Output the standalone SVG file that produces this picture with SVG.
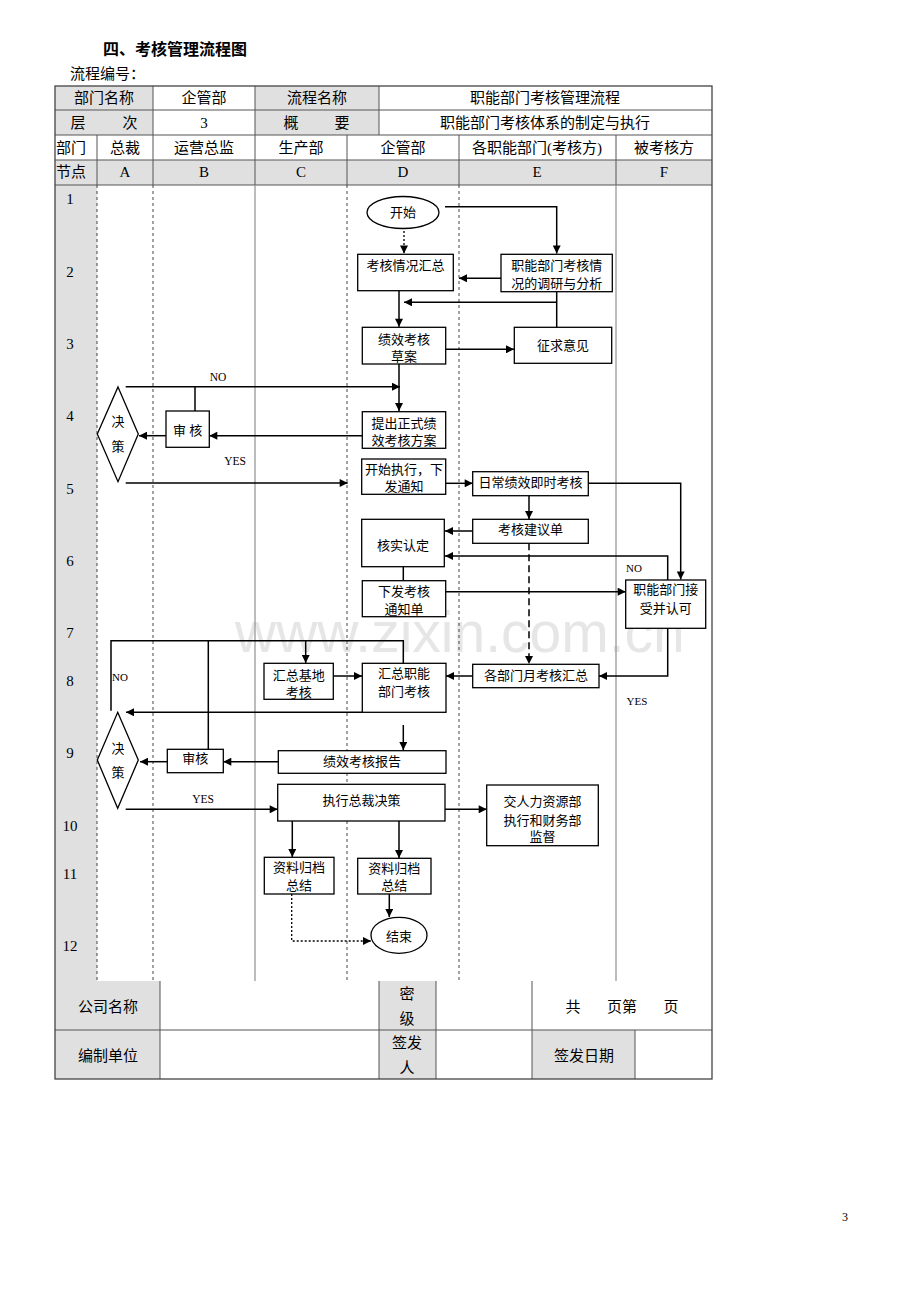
<svg xmlns="http://www.w3.org/2000/svg" width="920" height="1302" viewBox="0 0 920 1302">
<defs>
<style>
text{font-family:"Liberation Serif","Noto Sans CJK SC",serif;fill:#000}
.h{font-size:15px;text-anchor:middle}
.bt{font-size:13px;text-anchor:middle}
.lb{font-size:11.5px;text-anchor:middle}
.g{fill:#e0e0e0}
.ln{stroke:#555;stroke-width:1;fill:none}
.sg{stroke:#999;stroke-width:1.3;fill:none}
.ds{stroke:#444;stroke-width:1;stroke-dasharray:3,3;fill:none}
.bx{fill:#fff;stroke:#000;stroke-width:1.3}
.c{fill:none;stroke:#000;stroke-width:1.5}
.ca{fill:none;stroke:#000;stroke-width:1.5;marker-end:url(#ah)}
.dot{fill:none;stroke:#000;stroke-width:1.3;stroke-dasharray:2,2;marker-end:url(#ah)}
.dsh{fill:none;stroke:#000;stroke-width:1.5;stroke-dasharray:7,4;marker-end:url(#ah)}
</style>
<marker id="ah" viewBox="0 0 10 10" refX="10" refY="5" markerWidth="10" markerHeight="8" markerUnits="userSpaceOnUse" orient="auto"><path d="M0,0 L10,5 L0,10 z" fill="#000"/></marker>
</defs>
<rect width="920" height="1302" fill="#fff"/>

<g id="title">
<text x="103" y="55" style="font-size:16px;font-weight:bold">四、考核管理流程图</text>
<text x="70" y="79" style="font-size:15px">流程编号：</text>
</g>

<g id="watermark">
<text x="235" y="652" style="font-family:'Liberation Sans',sans-serif;font-size:57px;fill:#e6e6e6">www.zixin.com.cn</text>
</g>

<g id="header-table">
<rect x="55" y="86" width="98" height="24" class="g"/>
<rect x="255" y="86" width="124" height="24" class="g"/>
<rect x="55" y="110" width="98" height="25" class="g"/>
<rect x="255" y="110" width="124" height="25" class="g"/>
<rect x="55" y="160" width="657" height="25" class="g"/>
<rect x="55" y="185" width="42" height="796" class="g"/>
<path class="ln" d="M55,110H712M55,135H712M55,160H712M55,185H712M153,86V135M255,86V135M379,86V135M97,135V185M153,135V185M255,135V185M347,135V185M459,135V185M616,135V185"/>
<text class="h" x="104" y="103">部门名称</text>
<text class="h" x="204" y="103">企管部</text>
<text class="h" x="317" y="103">流程名称</text>
<text class="h" x="545" y="103">职能部门考核管理流程</text>
<text class="h" x="78" y="128">层</text>
<text class="h" x="130" y="128">次</text>
<text class="h" x="204" y="128">3</text>
<text class="h" x="291" y="128">概</text>
<text class="h" x="342" y="128">要</text>
<text class="h" x="545" y="128">职能部门考核体系的制定与执行</text>
<text class="h" x="71" y="153">部门</text>
<text class="h" x="125" y="153">总裁</text>
<text class="h" x="204" y="153">运营总监</text>
<text class="h" x="301" y="153">生产部</text>
<text class="h" x="403" y="153">企管部</text>
<text class="h" x="537" y="153">各职能部门(考核方)</text>
<text class="h" x="664" y="153">被考核方</text>
<text class="h" x="71" y="177">节点</text>
<text class="h" x="125" y="177">A</text>
<text class="h" x="204" y="177">B</text>
<text class="h" x="301" y="177">C</text>
<text class="h" x="403" y="177">D</text>
<text class="h" x="537" y="177">E</text>
<text class="h" x="664" y="177">F</text>
</g>

<g id="lanes">
<path class="ds" d="M97,185V981M153,185V981M347,185V981M459,185V981"/>
<path class="sg" d="M255,185V981M616,185V981"/>
<g class="h">
<text x="70" y="204">1</text>
<text x="70" y="277">2</text>
<text x="70" y="349">3</text>
<text x="70" y="421">4</text>
<text x="70" y="494">5</text>
<text x="70" y="566">6</text>
<text x="70" y="638">7</text>
<text x="70" y="686">8</text>
<text x="70" y="758">9</text>
<text x="70" y="831">10</text>
<text x="70" y="879">11</text>
<text x="70" y="951">12</text>
</g>
</g>

<g id="footer">
<rect x="55" y="981" width="105" height="98" class="g"/>
<rect x="379" y="981" width="57" height="98" class="g"/>
<rect x="532" y="1030" width="103" height="49" class="g"/>
<path class="ln" d="M55,1030H712M160,981V1079M379,981V1079M436,981V1079M532,981V1079M635,1030V1079"/>
<text class="h" x="108" y="1012">公司名称</text>
<text class="h" x="407" y="999">密</text>
<text class="h" x="407" y="1024">级</text>
<text class="h" x="573" y="1012">共</text>
<text class="h" x="622" y="1012">页第</text>
<text class="h" x="671" y="1012">页</text>
<text class="h" x="108" y="1061">编制单位</text>
<text class="h" x="407" y="1048">签发</text>
<text class="h" x="407" y="1073">人</text>
<text class="h" x="584" y="1061">签发日期</text>
</g>

<rect x="55" y="86" width="657" height="993" fill="none" stroke="#444" stroke-width="1.3"/>

<g id="connectors">
<path class="ca" d="M445,206.7H556.7V253.5"/>
<path class="dot" d="M404,231V253.5"/>
<path class="ca" d="M501,278.3H459"/>
<path class="c" d="M556.7,291.7V327.3"/>
<path class="ca" d="M556.7,302.3H404"/>
<path class="ca" d="M399,290.7V326.7"/>
<path class="ca" d="M445.7,349.3H514"/>
<path class="ca" d="M399,364V411"/>
<path class="ca" d="M125.7,386.7H400"/>
<path class="c" d="M195,386.7V411"/>
<path class="ca" d="M362,435.7H209.3"/>
<path class="ca" d="M166,435.7H139"/>
<path class="ca" d="M125.7,483H347.7"/>
<path class="ca" d="M445.7,483.3H472.7"/>
<path class="ca" d="M588.3,483.3H680.7V579.5"/>
<path class="ca" d="M529,495.7V519"/>
<path class="ca" d="M472.7,531H445"/>
<path class="ca" d="M667.7,580V556H445"/>
<path class="c" d="M403.3,566.7V580.7"/>
<path class="ca" d="M445.7,591.7H625.7"/>
<path class="dsh" d="M529,543.3V664"/>
<path class="ca" d="M667.7,628.3V676H599"/>
<path class="ca" d="M472.7,676H446"/>
<path class="c" d="M403.3,663.3V640.7H111V710.7"/>
<path class="c" d="M208.3,640.7V749.3"/>
<path class="ca" d="M305.7,640.7V663"/>
<path class="ca" d="M333.3,676H362"/>
<path class="ca" d="M362,712.3H126"/>
<path class="ca" d="M403.3,725V750"/>
<path class="ca" d="M278.3,761.7H223.3"/>
<path class="ca" d="M167.3,761.7H140"/>
<path class="ca" d="M125.7,809.3H277.7"/>
<path class="ca" d="M445,809.3H486.7"/>
<path class="ca" d="M292.3,821V857"/>
<path class="ca" d="M399,821V858"/>
<path class="ca" d="M389.3,894V917"/>
<path class="dot" d="M291.7,894V941H371"/>
<text class="lb" x="218" y="381">NO</text>
<text class="lb" x="235" y="465">YES</text>
<text class="lb" x="634" y="572" style="font-size:11px">NO</text>
<text class="lb" x="637" y="705" style="font-size:11px">YES</text>
<text class="lb" x="120" y="681" style="font-size:11px">NO</text>
<text class="lb" x="203" y="803">YES</text>
</g>

<g id="n-start"><ellipse cx="403" cy="212.5" rx="36" ry="16" class="bx"/><text class="bt" x="403" y="217">开始</text></g>
<g id="n-summary"><rect x="357.7" y="254.3" width="95.6" height="36.4" class="bx"/><text class="bt" x="405.5" y="270">考核情况汇总</text></g>
<g id="n-research"><rect x="501" y="254.3" width="111.3" height="37.4" class="bx"/><text class="bt" x="556.7" y="270">职能部门考核情</text><text class="bt" x="556.7" y="288">况的调研与分析</text></g>
<g id="n-draft"><rect x="362.3" y="327.3" width="83.4" height="36.7" class="bx"/><text class="bt" x="404" y="344">绩效考核</text><text class="bt" x="404" y="361">草案</text></g>
<g id="n-opinion"><rect x="514.3" y="327.3" width="97.4" height="36" class="bx"/><text class="bt" x="563" y="350">征求意见</text></g>
<g id="n-formal"><rect x="362.3" y="411.7" width="83.4" height="36.6" class="bx"/><text class="bt" x="404" y="428">提出正式绩</text><text class="bt" x="404" y="445">效考核方案</text></g>
<g id="n-review1"><rect x="166" y="411" width="43.3" height="36.3" class="bx"/><text class="bt" x="187.7" y="435">审 核</text></g>
<g id="n-decide1"><path d="M118,387L138.3,434L118,481.7L97.3,434Z" class="bx"/><text class="bt" x="118" y="426">决</text><text class="bt" x="118" y="451">策</text></g>
<g id="n-execute"><rect x="361.7" y="459" width="84" height="35.3" class="bx"/><text class="bt" x="404" y="474">开始执行，下</text><text class="bt" x="404" y="491">发通知</text></g>
<g id="n-daily"><rect x="472.7" y="471.7" width="115.6" height="24" class="bx"/><text class="bt" x="530.5" y="486.5">日常绩效即时考核</text></g>
<g id="n-suggest"><rect x="472.7" y="519.3" width="115.6" height="24" class="bx"/><text class="bt" x="530.5" y="534">考核建议单</text></g>
<g id="n-verify"><rect x="361.7" y="519.3" width="82.6" height="47.4" class="bx"/><text class="bt" x="403" y="550">核实认定</text></g>
<g id="n-notice"><rect x="362.3" y="580.7" width="83.4" height="36" class="bx"/><text class="bt" x="404" y="596">下发考核</text><text class="bt" x="404" y="614">通知单</text></g>
<g id="n-accept"><rect x="625.7" y="580" width="80" height="48.3" class="bx"/><text class="bt" x="665.7" y="594">职能部门接</text><text class="bt" x="665.7" y="613">受并认可</text></g>
<g id="n-monthly"><rect x="472.7" y="664.3" width="126.3" height="23.4" class="bx"/><text class="bt" x="536" y="680">各部门月考核汇总</text></g>
<g id="n-funcsum"><rect x="362.3" y="663.3" width="83.7" height="49" class="bx"/><text class="bt" x="404" y="678">汇总职能</text><text class="bt" x="404" y="695.5">部门考核</text></g>
<g id="n-basesum"><rect x="264" y="663.3" width="69.3" height="36" class="bx"/><text class="bt" x="298.7" y="680">汇总基地</text><text class="bt" x="298.7" y="696.5">考核</text></g>
<g id="n-decide2"><path d="M117.7,712.3L138.3,760L117.7,808.3L97.3,760Z" class="bx"/><text class="bt" x="118" y="753">决</text><text class="bt" x="118" y="777">策</text></g>
<g id="n-review2"><rect x="167.3" y="749.3" width="56" height="23.4" class="bx"/><text class="bt" x="195.3" y="763">审核</text></g>
<g id="n-report"><rect x="278.3" y="750.7" width="167.7" height="22.6" class="bx"/><text class="bt" x="362" y="765.5">绩效考核报告</text></g>
<g id="n-decision"><rect x="277.7" y="784.3" width="167.3" height="36.7" class="bx"/><text class="bt" x="361.5" y="805">执行总裁决策</text></g>
<g id="n-hr"><rect x="486.7" y="785" width="111.6" height="60.7" class="bx"/><text class="bt" x="542.5" y="806">交人力资源部</text><text class="bt" x="542.5" y="824.5">执行和财务部</text><text class="bt" x="542.5" y="841">监督</text></g>
<g id="n-archiveC"><rect x="264.3" y="857.3" width="69.7" height="36.7" class="bx"/><text class="bt" x="299" y="872">资料归档</text><text class="bt" x="299" y="890">总结</text></g>
<g id="n-archiveD"><rect x="357.7" y="858.3" width="73.3" height="35.7" class="bx"/><text class="bt" x="394.3" y="872.5">资料归档</text><text class="bt" x="394.3" y="890">总结</text></g>
<g id="n-end"><ellipse cx="399" cy="935.3" rx="28" ry="18" class="bx"/><text class="bt" x="399" y="940.5">结束</text></g>

<text x="845" y="1221" style="font-size:12px;text-anchor:middle">3</text>
</svg>
